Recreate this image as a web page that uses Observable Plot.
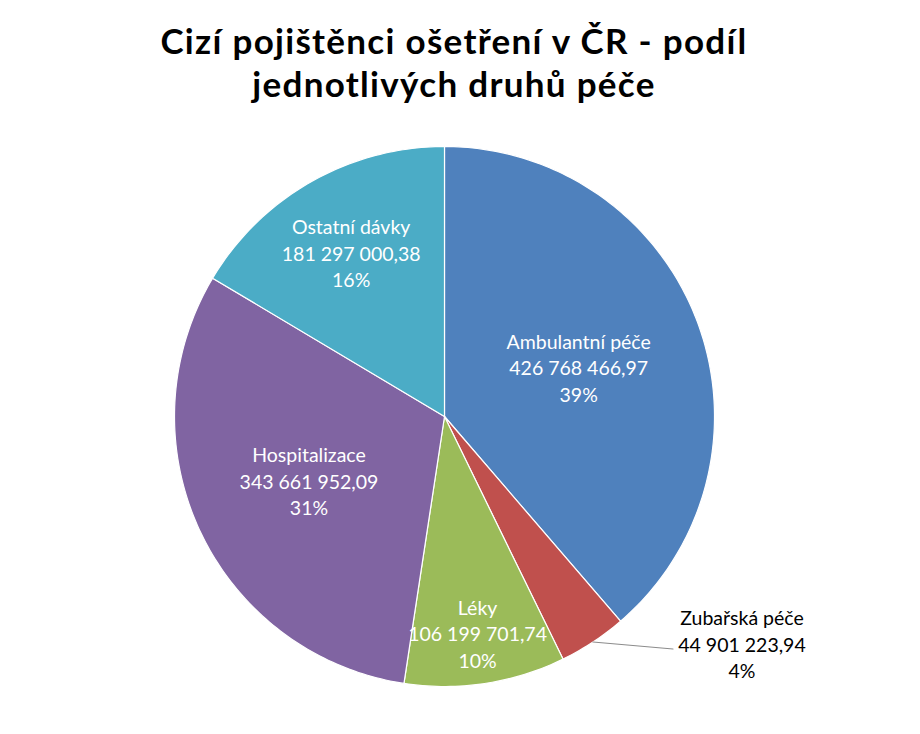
<!DOCTYPE html>
<html>
<head>
<meta charset="utf-8">
<script src="https://cdn.jsdelivr.net/npm/d3@7"></script>
<script src="https://cdn.jsdelivr.net/npm/@observablehq/plot@0.6"></script>
<style>
  html, body { margin: 0; padding: 0; background: #fff; }
  #title { width: 920px; height: 120px; box-sizing: border-box; padding-top: 19px;
    font-family: Lato, "Open Sans", sans-serif; font-weight: 700; font-size: 35px;
    line-height: 43px; text-align: center; color: #000; letter-spacing: 1.3px; padding-right: 12px; }
  #chart svg { display: block; }
</style>
</head>
<body>
<div id="title">Cizí pojištěnci ošetření v ČR - podíl<br>jednotlivých druhů péče</div>
<div id="chart"></div>
<script>
// ---- data ----
const categories = ["Ambulantní péče", "Zubařská péče", "Léky", "Hospitalizace", "Ostatní dávky"];
const values = [426768466.97, 44901223.94, 106199701.74, 343661952.09, 181297000.38];
const valueLabels = ["426 768 466,97", "44 901 223,94", "106 199 701,74", "343 661 952,09", "181 297 000,38"];
const percentLabels = ["39%", "4%", "10%", "31%", "16%"];
const colors = ["#4F81BD", "#C0504D", "#9BBB59", "#8064A2", "#4BACC6"];

// ---- layout (label placement, radius fraction along mid-angle) ----
const labelRadius = [0.53, null, 0.81, 0.555, 0.70];
const outside = [false, true, false, false, false];

const total = d3.sum(values);
let cum = 0;
const slices = values.map((v, i) => {
  const a0 = cum / total * 2 * Math.PI;
  cum += v;
  const a1 = cum / total * 2 * Math.PI;
  return {i, cat: categories[i], a0, a1, mid: (a0 + a1) / 2};
});

// polygon points for each slice (angle clockwise from 12 o'clock)
const pts = [];
for (const s of slices) {
  pts.push({cat: s.cat, x: 0, y: 0});
  const n = Math.max(2, Math.ceil((s.a1 - s.a0) / (Math.PI / 180)));
  for (let k = 0; k <= n; k++) {
    const a = s.a0 + (s.a1 - s.a0) * k / n;
    pts.push({cat: s.cat, x: Math.sin(a), y: Math.cos(a)});
  }
  pts.push({cat: s.cat, x: 0, y: 0});
}

const R = 270;
const cx = 444, cy = 296;
const inLabels = [], outLabels = [], leaders = [];
for (const s of slices) {
  const text = `${s.cat}\n${valueLabels[s.i]}\n${percentLabels[s.i]}`;
  if (!outside[s.i]) {
    const f = labelRadius[s.i];
    inLabels.push({x: f * Math.sin(s.mid), y: f * Math.cos(s.mid), text});
  } else {
    const ex = Math.sin(s.mid), ey = Math.cos(s.mid);
    const lx = ex + 80 / R, ly = ey - 7 / R;
    leaders.push({cat: s.cat, x: ex, y: ey}, {cat: s.cat, x: lx, y: ly});
    outLabels.push({x: lx + 69 / R, y: ly + 6 / R, text});
  }
}

const chart = Plot.plot({
  width: 920,
  height: 614,
  margin: 0,
  x: {domain: [-1, 1], range: [cx - R, cx + R], axis: null},
  y: {domain: [-1, 1], range: [cy + R, cy - R], axis: null},
  color: {domain: categories, range: colors},
  style: {fontFamily: "Lato, 'Open Sans', sans-serif"},
  marks: [
    Plot.line(pts, {x: "x", y: "y", z: "cat", fill: "cat", stroke: "#fff", strokeWidth: 1.2, curve: "linear"}),
    Plot.line(leaders, {x: "x", y: "y", z: "cat", stroke: "#8c8c8c", strokeWidth: 1.2}),
    Plot.text(inLabels, {x: "x", y: "y", text: "text", fill: "#fff", fontSize: 19.5, lineHeight: 1.36, textAnchor: "middle"}),
    Plot.text(outLabels, {x: "x", y: "y", text: "text", fill: "#000", fontSize: 19.5, lineHeight: 1.36, textAnchor: "middle"})
  ]
});
document.getElementById("chart").appendChild(chart);
</script>
</body>
</html>
